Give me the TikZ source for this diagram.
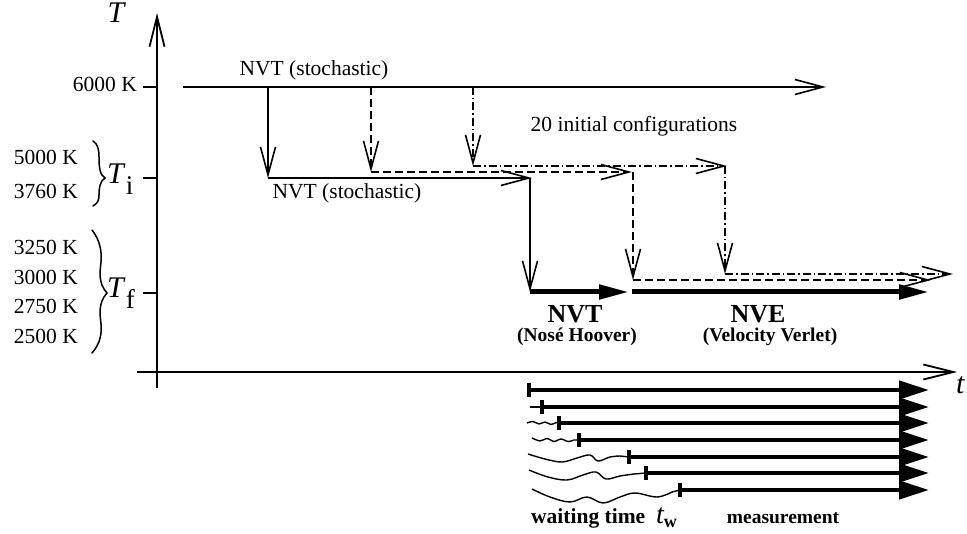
\documentclass[tikz,border=0pt]{standalone}
\usepackage{fontspec}
\setmainfont{Liberation Serif}
\usetikzlibrary{arrows.meta}
\begin{document}
\begin{tikzpicture}[x=1pt,y=-1pt,
  thinln/.style={line width=1.6pt},
  axisln/.style={line width=1.8pt},
  openhead/.style={-{Straight Barb[length=28pt,width=15pt]}},
  dashln/.style={thinln,dash pattern=on 8pt off 4pt},
  dotdashln/.style={thinln,dash pattern=on 8pt off 3pt on 1.5pt off 3pt},
  thickarr/.style={line width=5pt,-{Triangle[length=30pt,width=14pt]}},
  measarr/.style={line width=4.5pt,-{Triangle[length=30pt,width=18pt]}},
  startbar/.style={line width=3.5pt},
  wave/.style={line width=1.4pt,line join=round},
  txt/.style={font=\fontsize{21.5}{24}\selectfont,inner sep=0pt},
  bigtxt/.style={font=\fontsize{26}{28}\selectfont\bfseries,inner sep=0pt,text depth=0pt},
  subtxt/.style={font=\fontsize{19.5}{22}\selectfont\bfseries,inner sep=0pt},
  axtxt/.style={font=\fontsize{30}{30}\selectfont\itshape,inner sep=0pt},
  bracestyle/.style={line width=1.5pt,line cap=round}
]
\useasboundingbox (0,0) rectangle (967,534);

% axes
\coordinate (Tbot) at (157,388);
\coordinate (Ttop) at (157,13);
\coordinate (tleft) at (137,372);
\coordinate (tright) at (957,372);
\draw[axisln,-{Straight Barb[length=30pt,width=15pt]}] (Tbot) -- (Ttop);
\draw[axisln,-{Straight Barb[length=30pt,width=15pt]}] (tleft) -- (tright);
\node[axtxt,anchor=base] (Tlab) at (116,23) {T};
\node[axtxt,anchor=base west] (tlab) at (956,394) {t};

% ticks
\coordinate (k6a) at (143,87); \coordinate (k6b) at (157,87);
\coordinate (kia) at (143,178); \coordinate (kib) at (157,178);
\coordinate (kfa) at (143,293); \coordinate (kfb) at (157,293);
\draw[axisln] (k6a) -- (k6b);
\draw[axisln] (kia) -- (kib);
\draw[axisln] (kfa) -- (kfb);

% temperature labels
\node[txt,anchor=base east] (l6000) at (137,92) {6000 K};
\node[txt,anchor=base east] (l5000) at (78,165) {5000 K};
\node[txt,anchor=base east] (l3760) at (78,199) {3760 K};
\node[txt,anchor=base east] (l3250) at (78,255) {3250 K};
\node[txt,anchor=base east] (l3000) at (78,285) {3000 K};
\node[txt,anchor=base east] (l2750) at (78,314) {2750 K};
\node[txt,anchor=base east] (l2500) at (78,344) {2500 K};

% braces
\draw[bracestyle] (93,141) .. controls (98,144) and (99,150) .. (99,157)
  .. controls (99,168) and (100,175) .. (105,178)
  .. controls (100,181) and (99,188) .. (99,195)
  .. controls (99,200) and (98,203) .. (93,206);
\draw[bracestyle] (92,230) .. controls (100,240) and (102,252) .. (101,262)
  .. controls (100,272) and (98,283) .. (107,293)
  .. controls (98,303) and (100,314) .. (101,324)
  .. controls (102,334) and (100,344) .. (92,353);
\node[inner sep=0pt,anchor=base west] (Ti) at (107,184)
  {{\fontsize{30}{30}\selectfont\itshape T}\kern2pt{\fontsize{27}{27}\selectfont\raisebox{-11pt}{i}}};
\node[inner sep=0pt,anchor=base west] (Tf) at (107,298)
  {{\fontsize{30}{30}\selectfont\itshape T}\kern2pt{\fontsize{27}{27}\selectfont\raisebox{-11pt}{f}}};

% process paths
\coordinate (s0) at (183,87);
\coordinate (s0end) at (826,87);
\coordinate (a1) at (268,87);
\coordinate (a2) at (371,87);
\coordinate (a3) at (473,87);
\coordinate (b1) at (268,178);
\coordinate (b1end) at (532,178);
\coordinate (b2) at (371,172);
\coordinate (b2end) at (632,172);
\coordinate (b3) at (473,166);
\coordinate (b3end) at (727,166);
\coordinate (c1top) at (530,178);
\coordinate (c1) at (530,292);
\coordinate (c1end) at (629,292);
\coordinate (c2top) at (633,172);
\coordinate (c2) at (633,280);
\coordinate (c2end) at (931,280);
\coordinate (c3top) at (725,166);
\coordinate (c3) at (725,274);
\coordinate (c3end) at (953,274);
\coordinate (e1) at (632,292);
\coordinate (e1end) at (929,292);

\draw[thinln,openhead] (s0) -- (s0end);
\draw[thinln,openhead] (a1) -- (b1);
\draw[dashln,openhead] (a2) -- (b2);
\draw[dotdashln,openhead] (a3) -- (b3);
\draw[thinln,openhead] (b1) -- (b1end);
\draw[dashln,openhead] (b2) -- (b2end);
\draw[dotdashln,openhead] (b3) -- (b3end);
\draw[thinln,openhead] (c1top) -- (c1);
\draw[dashln,openhead] (c2top) -- (c2);
\draw[dotdashln,openhead] (c3top) -- (c3);
\draw[dashln,openhead] (c2) -- (c2end);
\draw[dotdashln,openhead] (c3) -- (c3end);
\draw[thickarr] (c1) -- (c1end);
\draw[thickarr] (e1) -- (e1end);

\node[txt,anchor=base] (nvt1) at (314,76) {NVT (stochastic)};
\node[txt,anchor=base] (nvt2) at (347,199) {NVT (stochastic)};
\node[txt,anchor=base] (init) at (634,132) {20 initial configurations};
\node[bigtxt,anchor=base] (nvt3) at (575,323) {NVT};
\node[subtxt,anchor=base] (nose) at (577,342) {(Nos\'e Hoover)};
\node[bigtxt,anchor=base] (nve) at (758,323) {NVE};
\node[subtxt,anchor=base] (vv) at (770,342) {(Velocity Verlet)};

% measurement lines
\foreach \y/\x [count=\i] in {390/529,407/542,423/559,440/579,457/629,473/646,490/680}{
  \coordinate (m\i) at (\x,\y);
  \coordinate (me\i) at (929,\y);
  \coordinate (mt\i) at (\x,\y-7);
  \coordinate (mb\i) at (\x,\y+7);
  \draw[measarr] (m\i) -- (me\i);
  \draw[startbar] (mt\i) -- (mb\i);
}
% waiting-time wiggles
\coordinate (w2) at (530,407);
\draw[wave] (w2) -- (m2);
\draw[wave] plot[smooth,tension=0.5] coordinates {(527,423) (533,421.5) (539,424) (545,422) (551,424.5) (556,422.5)} -- (m3);
\draw[wave] plot[smooth,tension=0.5] coordinates {(532,438) (540,441) (547,438.5) (554,441.5) (561,439) (568,441.5) (574,440)} -- (m4);
\draw[wave] plot[smooth,tension=0.6] coordinates {(528,454) (545,459) (562,462) (577,458) (590,455) (598,461) (610,457) (620,456)} -- (m5);
\draw[wave] plot[smooth,tension=0.6] coordinates {(529,470) (548,477) (567,480) (583,475) (596,472) (606,479) (620,476) (634,474)} -- (m6);
\draw[wave] plot[smooth,tension=0.6] coordinates {(532,489) (550,497) (570,502) (587,497) (603,503) (620,497) (635,493) (657,497) (672,492)} -- (m7);

\node[inner sep=0pt,font=\fontsize{21.5}{24}\selectfont\bfseries,anchor=base west] (wt) at (531,523) {waiting time};
\node[inner sep=0pt,anchor=base west] (tw) at (656,523)
  {{\fontsize{28}{28}\selectfont\itshape t}{\fontsize{18}{18}\selectfont\bfseries\raisebox{-4pt}{w}}};
\node[subtxt,anchor=base] (meas) at (783,523) {measurement};
\end{tikzpicture}
\end{document}
